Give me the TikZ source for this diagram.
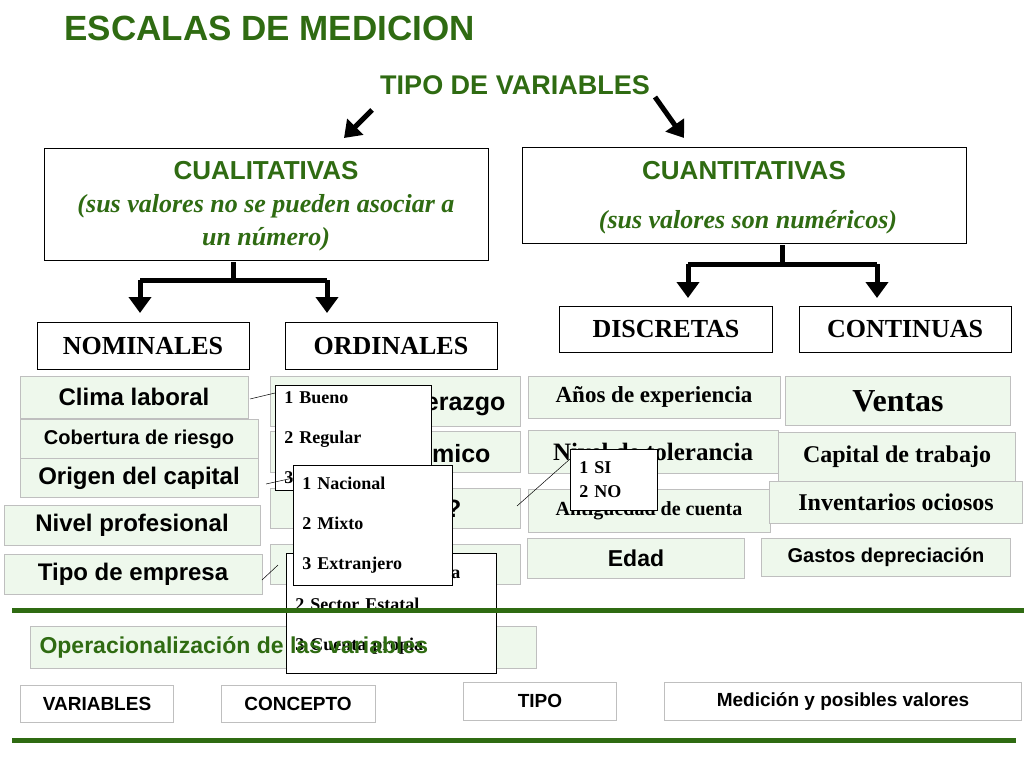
\documentclass[tikz,border=0pt]{standalone}
\usepackage{fontspec}
\setmainfont{Liberation Serif}
\setsansfont{Liberation Sans}
\usetikzlibrary{arrows.meta}
\definecolor{dgreen}{HTML}{2F6B12}
\definecolor{lgreen}{HTML}{EEF8EC}
\begin{document}
\begin{tikzpicture}[x=1pt,y=-1pt]
    % Styles
        \tikzstyle{block} = [rectangle, draw, fill=white, text centered, inner sep=0pt, line width=0.8pt]
        \tikzstyle{gbox} = [rectangle, draw=black!25, fill=lgreen, text centered, inner sep=0pt, line width=1pt]
        \tikzstyle{note} = [rectangle, draw, fill=white, inner xsep=9pt, inner ysep=0pt, line width=0.8pt, align=left, font=\bfseries\fontsize{18}{40}\selectfont]
        \tikzstyle{line} = [draw, line width=0.5pt]
        \tikzstyle{fat} = [draw, line width=5pt, -{Triangle[length=16pt,width=22pt]}]
        \tikzstyle{head} = [text=dgreen, font=\sffamily\bfseries\fontsize{26}{26}\selectfont]
        \tikzstyle{sub} = [text=dgreen, font=\bfseries\itshape\fontsize{26}{26}\selectfont]
    \useasboundingbox (0,0) rectangle (1024,768);
    % headings
        \node [anchor=west, font=\sffamily\bfseries\fontsize{35}{35}\selectfont, text=dgreen] (title) at (61,28) {ESCALAS DE MEDICION};
        \node [head, font=\sffamily\bfseries\fontsize{27}{27}\selectfont] (tipovar) at (515,85) {TIPO DE VARIABLES};
        \coordinate (a1) at (372,110); \coordinate (a2) at (344,138);
        \coordinate (a3) at (655,97); \coordinate (a4) at (684,138);
        \path [fat] (a1) -- (a2);
        \path [fat] (a3) -- (a4);
    % main boxes
        \node [block, minimum width=444, minimum height=112] (cuali) at (266,204) {};
        \node [head] (cualit) at (266,171) {CUALITATIVAS};
        \node [sub] (cualis1) at (266,206) {(sus valores no se pueden asociar a};
        \node [sub] (cualis2) at (266,239) {un número)};
        \node [block, minimum width=444, minimum height=96] (cuanti) at (744,195) {};
        \node [head] (cuantit) at (744,171) {CUANTITATIVAS};
        \node [sub] (cuantis) at (748,222) {(sus valores son numéricos)};
    % brackets
        \coordinate (b1) at (233,262); \coordinate (b2) at (233,280);
        \coordinate (b3) at (140,280); \coordinate (b4) at (327,280);
        \coordinate (b5) at (140,313); \coordinate (b6) at (327,313);
        \path [draw, line width=5pt] (b1) -- (b2);
        \path [draw, line width=5pt] (b3) -- (b4);
        \path [fat] (b3) -- (b5);
        \path [fat] (b4) -- (b6);
        \coordinate (c1) at (782,245); \coordinate (c2) at (782,264);
        \coordinate (c3) at (688,264); \coordinate (c4) at (877,264);
        \coordinate (c5) at (688,298); \coordinate (c6) at (877,298);
        \path [draw, line width=5pt] (c1) -- (c2);
        \path [draw, line width=5pt] (c3) -- (c4);
        \path [fat] (c3) -- (c5);
        \path [fat] (c4) -- (c6);
    % level two
        \node [block, minimum width=212, minimum height=47, font=\bfseries\fontsize{26}{26}\selectfont] (nominales) at (143,346) {NOMINALES};
        \node [block, minimum width=212, minimum height=47, font=\bfseries\fontsize{26}{26}\selectfont] (ordinales) at (391,346) {ORDINALES};
        \node [block, minimum width=213, minimum height=46, font=\bfseries\fontsize{26}{26}\selectfont] (discretas) at (666,329) {DISCRETAS};
        \node [block, minimum width=212, minimum height=46, font=\bfseries\fontsize{26}{26}\selectfont] (continuas) at (905,329) {CONTINUAS};
    % nominal column
        \node [gbox, minimum width=228, minimum height=42, font=\sffamily\bfseries\fontsize{24}{24}\selectfont] (clima) at (134,397) {Clima laboral};
        \node [gbox, minimum width=238, minimum height=40, font=\sffamily\bfseries\fontsize{20}{20}\selectfont] (cobertura) at (139,439) {Cobertura de riesgo};
        \node [gbox, minimum width=238, minimum height=39, font=\sffamily\bfseries\fontsize{24}{24}\selectfont] (origen) at (139,478) {Origen del capital};
        \node [gbox, minimum width=256, minimum height=40, font=\sffamily\bfseries\fontsize{24}{24}\selectfont] (nivelprof) at (132,525) {Nivel profesional};
        \node [gbox, minimum width=258, minimum height=40, font=\sffamily\bfseries\fontsize{24}{24}\selectfont] (tipoemp) at (133,574) {Tipo de empresa};
    % ordinal column
        \node [gbox, minimum width=250, minimum height=50] (ord1) at (395,401) {};
        \node [gbox, minimum width=250, minimum height=41] (ord2) at (395,452) {};
        \node [gbox, minimum width=250, minimum height=40] (ord3) at (395,508) {};
        \node [gbox, minimum width=250, minimum height=40] (ord4) at (395,564) {};
        \node [anchor=east, font=\sffamily\bfseries\fontsize{25}{25}\selectfont] (ordt1) at (509,404) {liderazgo};
        \node [anchor=east, font=\sffamily\bfseries\fontsize{25}{25}\selectfont] (ordt2) at (494,453) {académico};
        \node [anchor=east, font=\sffamily\bfseries\fontsize{25}{25}\selectfont] (ordt3) at (465,509) {?};
    % discrete column
        \node [gbox, minimum width=252, minimum height=42, font=\bfseries\fontsize{23}{23}\selectfont] (anios) at (654,397) {Años de experiencia};
        \node [gbox, minimum width=250, minimum height=43, font=\bfseries\fontsize{25}{25}\selectfont] (tolerancia) at (653,452) {Nivel de tolerancia};
        \node [gbox, minimum width=242, minimum height=43, font=\bfseries\fontsize{20}{20}\selectfont] (antig) at (649,511) {Antigüedad de cuenta};
        \node [gbox, minimum width=217, minimum height=40, font=\sffamily\bfseries\fontsize{23}{23}\selectfont] (edad) at (636,558) {Edad};
    % continuous column
        \node [gbox, minimum width=225, minimum height=49, font=\bfseries\fontsize{32}{32}\selectfont] (ventas) at (898,401) {Ventas};
        \node [gbox, minimum width=237, minimum height=50, font=\bfseries\fontsize{24}{24}\selectfont] (capital) at (897,457) {Capital de trabajo};
        \node [gbox, minimum width=253, minimum height=42, font=\bfseries\fontsize{24}{24}\selectfont] (invent) at (896,502) {Inventarios ociosos};
        \node [gbox, minimum width=249, minimum height=38, font=\sffamily\bfseries\fontsize{20}{20}\selectfont] (gastos) at (886,557) {Gastos depreciación};
    % operacionalizacion box
        \node [gbox, minimum width=506, minimum height=42] (opbox) at (283,647) {};
    % callouts
        \node [note, text width=192, minimum height=120, anchor=north west] (sector) at (286,553)
            {\\[-2pt]2 Sector Estatal\\3 Cuenta propia};
        \node [note, text width=138, minimum height=105, anchor=north west] (bueno) at (275,385)
            {1 Bueno\\2 Regular\\3};
        \node [note, text width=141, minimum height=120, anchor=north west] (nacional) at (293,465)
            {1 Nacional\\2 Mixto\\3 Extranjero};
        \node [note, text width=69, minimum height=61, anchor=north west, font=\bfseries\fontsize{18}{24}\selectfont] (sino) at (570,449)
            {1 SI\\2 NO};
        \coordinate (l1) at (250,399); \coordinate (l2) at (275,393);
        \coordinate (l3) at (266,484); \coordinate (l4) at (293,478);
        \coordinate (l5) at (262,580); \coordinate (l6) at (278,565);
        \coordinate (l7) at (517,506); \coordinate (l8) at (570,459);
        \path [line] (l1) -- (l2);
        \path [line] (l3) -- (l4);
        \path [line] (l5) -- (l6);
        \path [line] (l7) -- (l8);
        \node [anchor=east, font=\bfseries\fontsize{18}{18}\selectfont] (sectora) at (464,574) {a};
    % green rules
        \coordinate (g1) at (12,610); \coordinate (g2) at (1024,610);
        \coordinate (g3) at (12,740); \coordinate (g4) at (1016,740);
        \path [draw, dgreen, line width=5pt] (g1) -- (g2);
        \path [draw, dgreen, line width=5pt] (g3) -- (g4);
        \node [anchor=west, text=dgreen, font=\sffamily\bfseries\fontsize{23}{23}\selectfont] (optext) at (36,647) {Operacionalización de las variables};
    % bottom row
        \node [gbox, fill=white, minimum width=153, minimum height=37, font=\sffamily\bfseries\fontsize{19}{19}\selectfont] (variables) at (97,704) {VARIABLES};
        \node [gbox, fill=white, minimum width=154, minimum height=37, font=\sffamily\bfseries\fontsize{19}{19}\selectfont] (concepto) at (298,704) {CONCEPTO};
        \node [gbox, fill=white, minimum width=153, minimum height=38, font=\sffamily\bfseries\fontsize{19}{19}\selectfont] (tipo) at (540,701) {TIPO};
        \node [gbox, fill=white, minimum width=357, minimum height=38, font=\sffamily\bfseries\fontsize{19}{19}\selectfont] (medicion) at (843,701) {Medición y posibles valores};
\end{tikzpicture}
\end{document}
